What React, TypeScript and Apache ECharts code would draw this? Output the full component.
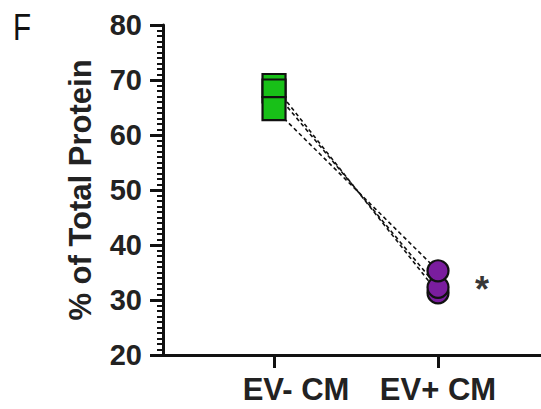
import React, { useEffect, useRef } from "react";
import * as echarts from "echarts";

const groups = ["EV- CM", "EV+ CM"];
const groupX = [1, 2];
const evMinus = [69, 68, 64.8];
const evPlus = [31.3, 32.3, 35.3];
const yTicks = [20, 30, 40, 50, 60, 70, 80];
const significance = "*";
const sigValue = 32.0;

export default function App() {
  const ref = useRef<HTMLDivElement>(null);
  useEffect(() => {
    if (!ref.current) return;
    const chart = echarts.init(ref.current, null, { renderer: "svg" });
    const font = "'Liberation Sans', Arial, sans-serif";
    const pairLines = evMinus.map((g, i) => ({
      type: "line",
      data: [
        [groupX[0], g],
        [groupX[1], evPlus[i]],
      ],
      symbol: "none",
      z: 1,
      lineStyle: { color: "#111", width: 1.6, type: [4, 3] },
      silent: true,
    }));
    chart.setOption({
      animation: false,
      grid: { left: 163, right: 0, top: 25, bottom: 54, containLabel: false },
      graphic: [
        {
          type: "text",
          left: 13,
          top: 9,
          scaleX: 0.8,
          style: { text: "F", font: `normal 37px ${font}`, fill: "#111" },
        },
      ],
      xAxis: {
        type: "value",
        min: 0.323,
        max: 2.628,
        splitLine: { show: false },
        axisLine: { show: true, lineStyle: { color: "#111", width: 3 } },
        axisTick: { show: true, customValues: groupX, length: 13, lineStyle: { color: "#111", width: 3 } },
        axisLabel: {
          customValues: groupX,
          formatter: (v: number) => {
            const i = groupX.indexOf(Math.round(v));
            if (i < 0) return "";
            return i === 0 ? `{a|${groups[i]}}` : `{b|${groups[i]}}`;
          },
          margin: 19,
          fontSize: 31,
          fontWeight: "bold",
          fontFamily: font,
          color: "#222",
          rich: {
            a: { fontSize: 31, fontWeight: "bold", fontFamily: font, color: "#222", padding: [0, 0, 0, 44] },
            b: { fontSize: 31, fontWeight: "bold", fontFamily: font, color: "#222" },
          },
        },
      },
      yAxis: {
        type: "value",
        min: yTicks[0],
        max: yTicks[yTicks.length - 1],
        interval: 10,
        name: "% of Total Protein",
        nameLocation: "middle",
        nameGap: 67,
        nameTextStyle: { fontSize: 31, fontWeight: "bold", fontFamily: font, color: "#222" },
        splitLine: { show: false },
        axisLine: { show: true, lineStyle: { color: "#111", width: 3 } },
        axisTick: { show: true, length: 13, lineStyle: { color: "#111", width: 3 } },
        minorTick: { show: true, splitNumber: 10, length: 6, lineStyle: { color: "#111", width: 2 } },
        axisLabel: {
          margin: 21,
          fontSize: 29,
          fontWeight: "bold",
          fontFamily: font,
          color: "#222",
        },
      },
      series: [
        ...pairLines,
        {
          type: "scatter",
          data: evMinus.map((v) => [groupX[0], v]),
          symbol: "rect",
          symbolSize: 23,
          z: 3,
          itemStyle: { color: "#18c018", borderColor: "#111", borderWidth: 2.2, opacity: 1 },
        },
        {
          type: "scatter",
          data: evPlus.map((v) => [groupX[1], v]),
          symbol: "circle",
          symbolSize: 21,
          z: 3,
          itemStyle: { color: "#7a1d9e", borderColor: "#111", borderWidth: 2.2, opacity: 1 },
        },
        {
          type: "scatter",
          data: [[groupX[1], sigValue]],
          symbolSize: 0,
          z: 4,
          label: {
            show: true,
            formatter: significance,
            position: "right",
            distance: 37,
            fontSize: 36,
            fontWeight: "bold",
            fontFamily: font,
            color: "#000",
          },
        },
      ],
    });
    return () => chart.dispose();
  }, []);
  return (
    <div
      ref={ref}
      style={{ position: "fixed", left: 0, top: 0, width: 541, height: 409, background: "#fff" }}
    />
  );
}
